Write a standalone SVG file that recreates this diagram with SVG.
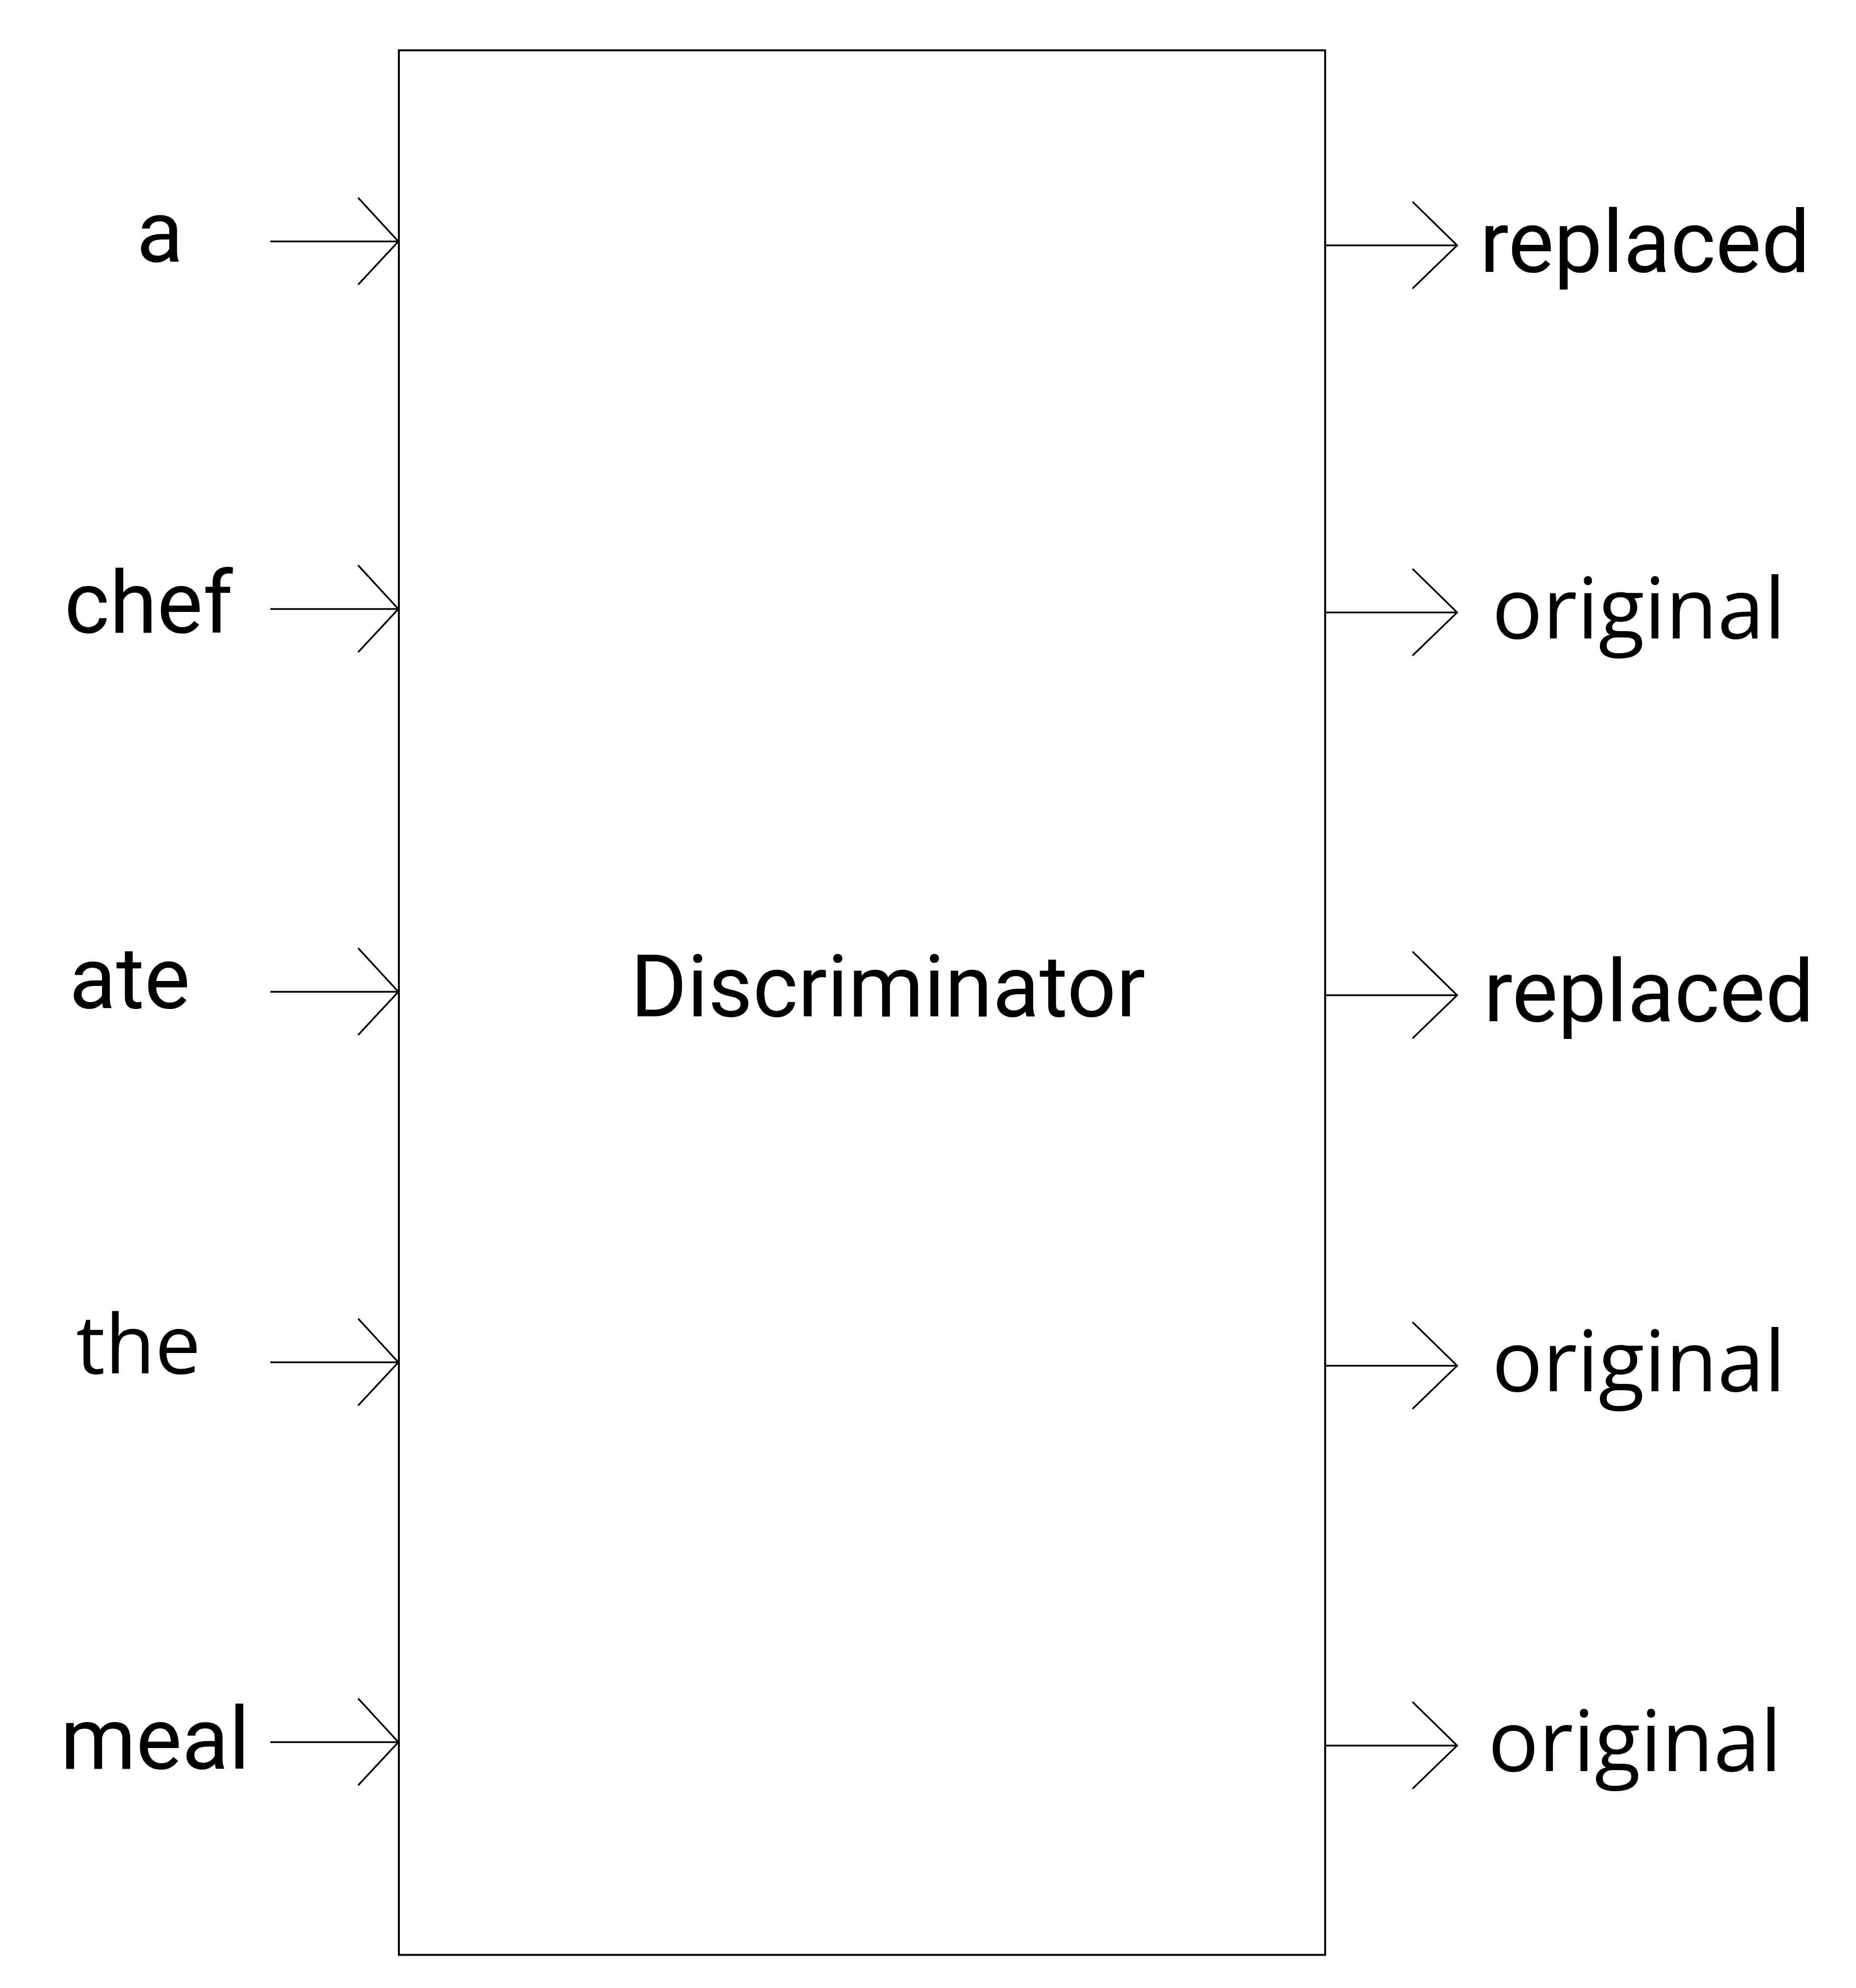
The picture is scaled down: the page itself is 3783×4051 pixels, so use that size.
<svg xmlns="http://www.w3.org/2000/svg" width="3783" height="4051" viewBox="0 0 3783 4051">
<style>
.r{font-family:Roboto,"Liberation Sans",sans-serif;font-size:176px;fill:#000}
.o{font-family:"Open Sans","Noto Sans","Liberation Sans",sans-serif;font-size:172px;fill:#000}
.ln{stroke:#000;stroke-width:3.5;fill:none}
.box{stroke:#000;stroke-width:4;fill:#fff}
</style>
<rect width="3783" height="4051" fill="#fff"/>
<g id="discriminator">
<rect class="box" x="813" y="102.5" width="1888" height="3881"/>
<text class="r" x="1285" y="2071">Discriminator</text>
</g>
<g id="in-a"><text class="r" x="278" y="533">a</text></g>
<g id="in-chef"><text class="r" x="131" y="1289">chef</text></g>
<g id="in-ate"><text class="r" x="141" y="2054">ate</text></g>
<g id="in-the"><text class="o" x="155" y="2799" style="font-size:166px">the</text></g>
<g id="in-meal"><text class="r" x="123" y="3604">meal</text></g>
<g id="out-1"><text class="r" x="3016" y="554">replaced</text></g>
<g id="out-2"><text class="o" x="3041" y="1301">original</text></g>
<g id="out-3"><text class="r" x="3024" y="2081">replaced</text></g>
<g id="out-4"><text class="o" x="3041" y="2835">original</text></g>
<g id="out-5"><text class="o" x="3033" y="3609">original</text></g>
<g id="connectors">
<path class="ln" d="M551 492H812M730 403L812 492L730 580"/>
<path class="ln" d="M551 1241H812M730 1152L812 1241L730 1329"/>
<path class="ln" d="M551 2021H812M730 1932L812 2021L730 2109"/>
<path class="ln" d="M551 2776H812M730 2687L812 2776L730 2864"/>
<path class="ln" d="M551 3550H812M730 3461L812 3550L730 3638"/>
<path class="ln" d="M2701 500H2970M2879 411L2970 500L2879 588"/>
<path class="ln" d="M2701 1248H2970M2879 1159L2970 1248L2879 1336"/>
<path class="ln" d="M2701 2028H2970M2879 1939L2970 2028L2879 2116"/>
<path class="ln" d="M2701 2783H2970M2879 2694L2970 2783L2879 2871"/>
<path class="ln" d="M2701 3557H2970M2879 3468L2970 3557L2879 3645"/>
</g>
</svg>
